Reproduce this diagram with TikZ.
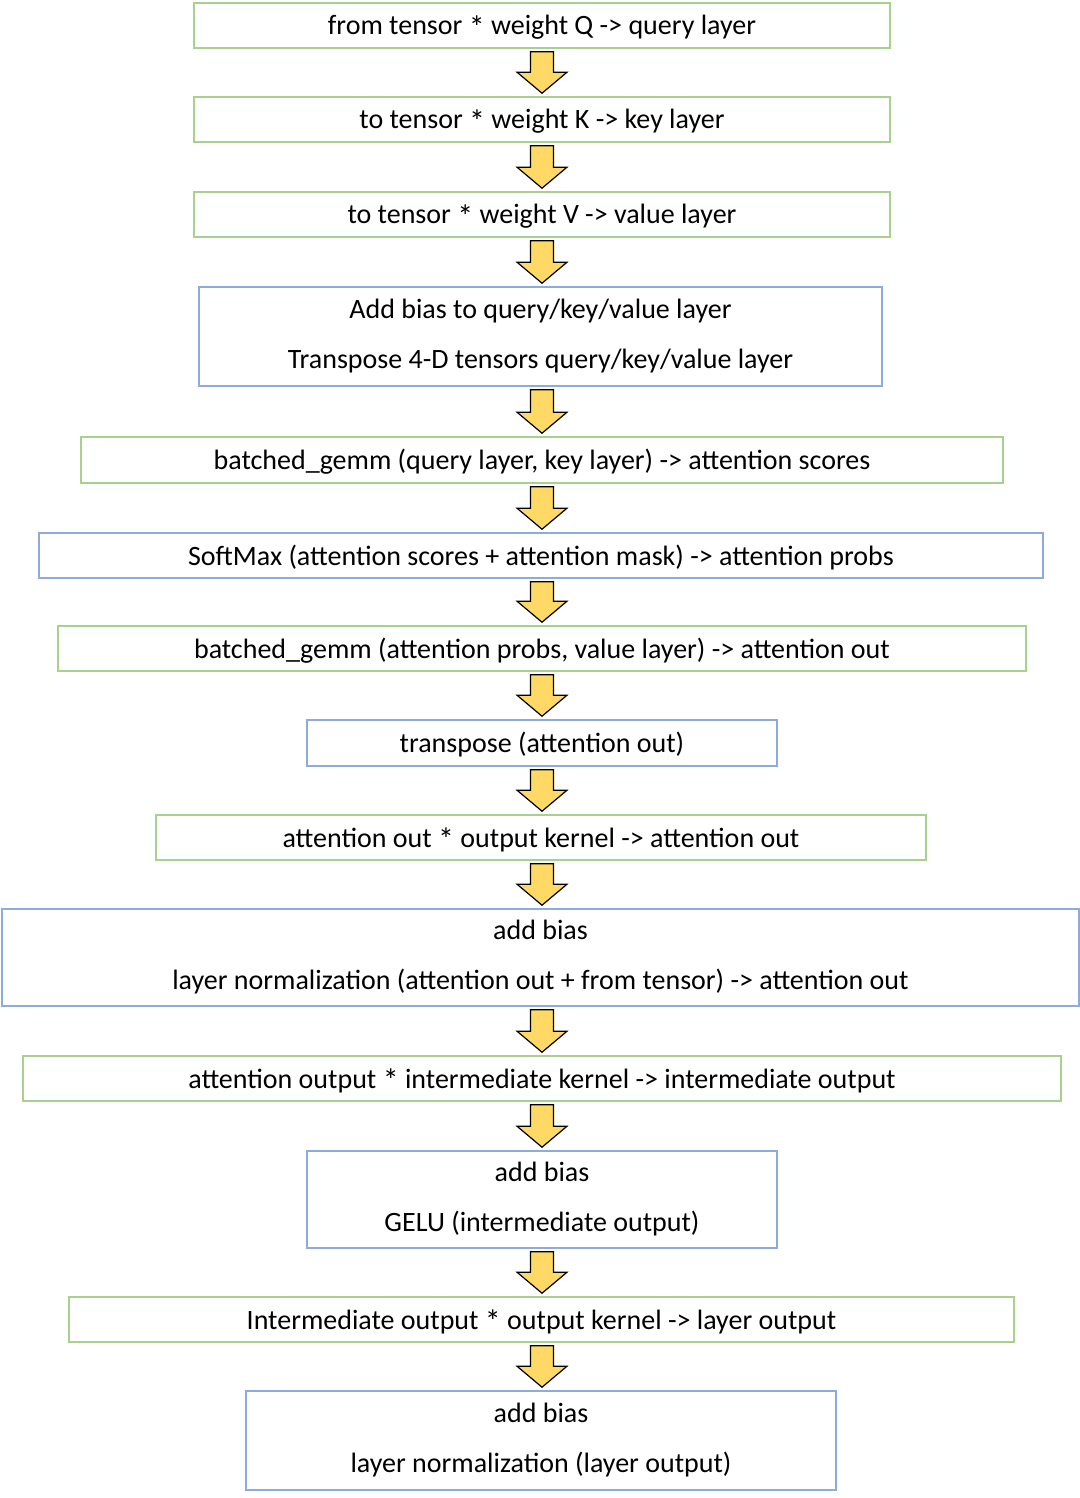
\documentclass[tikz,border=0pt]{standalone}
\usepackage{fontspec}
\setmainfont{Carlito}
\usetikzlibrary{calc}

\definecolor{boxgreen}{HTML}{A9D18E}
\definecolor{boxblue}{HTML}{8FAADC}
\definecolor{arrowgold}{HTML}{FFD966}

\tikzset{
  oneline/.style={text height=12.5pt, text depth=3pt},
  stepgreen/.style={draw=boxgreen, line width=0.8pt, minimum height=22.5pt, inner sep=0pt, oneline},
  stepblue/.style={draw=boxblue, line width=0.8pt, minimum height=22.5pt, inner sep=0pt, align=center},
  downarrow/.style={fill=arrowgold, draw=black, line width=0.6pt, line join=miter}
}

% multiplication star, a little larger and lower than the font's own
\newcommand{\timesstar}{\raisebox{-0.25ex}{\fontsize{16}{16}\selectfont *}}

% block arrow from the bottom of one box to the top of the next
\newcommand{\flowarrow}[2]{%
  \coordinate (s) at ([yshift=-1.5pt]#1.south -| axis);
  \coordinate (e) at ([yshift=1.5pt]#2.north -| axis);
  \draw[downarrow] ($(s)+(-5.75pt,0)$) -- ($(s)+(5.75pt,0)$) -- ($(e)+(5.75pt,10.5pt)$)
    -- ($(e)+(12.5pt,10.5pt)$) -- (e) -- ($(e)+(-12.5pt,10.5pt)$) -- ($(e)+(-5.75pt,10.5pt)$) -- cycle;
}

\begin{document}
\begin{tikzpicture}[font=\fontsize{14}{14.4}\selectfont, x=0.5pt, y=-0.5pt]
  \useasboundingbox (0,0) rectangle (1080,1498);
  \coordinate (axis) at (542,0);

  % --- attention ---
  \node[stepgreen, minimum width=348pt] (qlayer) at (542,25.5) {from tensor \timesstar{} weight Q -> query layer};
  \node[stepgreen, minimum width=348pt] (klayer) at (542,119.5) {to tensor \timesstar{} weight K -> key layer};
  \node[stepgreen, minimum width=348pt] (vlayer) at (542,214.5) {to tensor \timesstar{} weight V -> value layer};
  \node[stepblue, minimum width=341.5pt, minimum height=49.5pt] (addbias) at (540.5,336.5)
    {Add bias to query/key/value layer\\[10.6pt] Transpose 4-D tensors query/key/value layer};
  \node[stepgreen, minimum width=461pt, minimum height=23pt] (scores) at (542,460) {batched\_gemm (query layer, key layer) -> attention scores};
  \node[stepblue, oneline, minimum width=502pt] (softmax) at (541,555.5) {SoftMax (attention scores + attention mask) -> attention probs};
  \node[stepgreen, minimum width=484pt] (attnout) at (542,648.5) {batched\_gemm (attention probs, value layer) -> attention out};
  \node[stepblue, oneline, minimum width=235pt, minimum height=23pt] (transp) at (542,743) {transpose (attention out)};
  \node[stepgreen, minimum width=385pt] (outkernel) at (541,837.5) {attention out \timesstar{} output kernel -> attention out};
  \node[stepblue, minimum width=538.5pt, minimum height=48.5pt] (attnnorm) at (540.5,957.5)
    {add bias\\[10.6pt] layer normalization (attention out + from tensor) -> attention out};

  % --- feed forward ---
  \node[stepgreen, minimum width=519pt] (interm) at (542,1078.5) {attention output \timesstar{} intermediate kernel -> intermediate output};
  \node[stepblue, minimum width=235pt, minimum height=48.5pt] (gelu) at (542,1199.5)
    {add bias\\[10.6pt] GELU (intermediate output)};
  \node[stepgreen, minimum width=472.5pt] (layerout) at (541.5,1319.5) {Intermediate output \timesstar{} output kernel -> layer output};
  \node[stepblue, minimum width=295pt, minimum height=49.5pt] (layernorm) at (541,1440.5)
    {add bias\\[10.6pt] layer normalization (layer output)};

  % --- arrows ---
  \flowarrow{qlayer}{klayer}
  \flowarrow{klayer}{vlayer}
  \flowarrow{vlayer}{addbias}
  \flowarrow{addbias}{scores}
  \flowarrow{scores}{softmax}
  \flowarrow{softmax}{attnout}
  \flowarrow{attnout}{transp}
  \flowarrow{transp}{outkernel}
  \flowarrow{outkernel}{attnnorm}
  \flowarrow{attnnorm}{interm}
  \flowarrow{interm}{gelu}
  \flowarrow{gelu}{layerout}
  \flowarrow{layerout}{layernorm}
\end{tikzpicture}
\end{document}
